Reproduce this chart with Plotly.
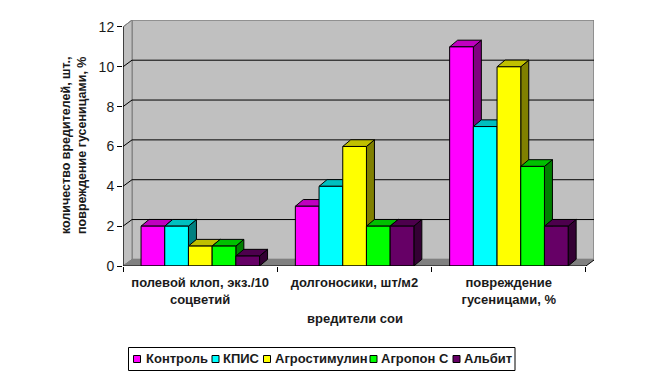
import plotly.graph_objects as go

categories = ["<b>полевой клоп, экз./10<br>соцветий</b>", "<b>долгоносики, шт/м2</b>", "<b>повреждение<br>гусеницами, %</b>"]
series_names = ["Контроль", "КПИС", "Агростимулин", "Агропон С", "Альбит"]
kontrol = [2, 3, 11]
kpis = [2, 4, 7]
agrostimulin = [1, 6, 10]
agropon = [1, 2, 5]
albit = [0.5, 2, 2]
series_values = [kontrol, kpis, agrostimulin, agropon, albit]
front_colors = ["#ff00ff", "#00ffff", "#ffff00", "#00ff00", "#660066"]
side_colors = ["#800080", "#008080", "#808000", "#008000", "#330033"]
top_colors = ["#c000c0", "#00c0c0", "#c0c000", "#00c000", "#4d004d"]
y_ticks = [0, 2, 4, 6, 8, 10, 12]

OFF = 8  # page body margin
W, H = 645 - 2 * OFF, 380 - 2 * OFF
L, R, T, B = 123 - OFF, 594 - OFF, 20 - OFF, 266 - OFF
CAT_PX, UNIT_PX = 154.3, 19.92
xmax, ymax = (R - L) / CAT_PX, (B - T) / UNIT_PX
DX, DY = 8 / CAT_PX, 6.7 / UNIT_PX      # bar depth
WX, WY = 9 / CAT_PX, 6.6 / UNIT_PX      # wall depth
BW, PAD = 23.7 / CAT_PX, 0.117
FONT = "Liberation Sans"
INK = "#1a1a1a"


def px(x):
    return (x - OFF - L) / (R - L)


def py(y):
    return (B - (y - OFF)) / (B - T)


def poly(xs, ys, color):
    return go.Scatter(x=xs + xs[:1], y=ys + ys[:1], mode="lines", fill="toself", fillcolor=color,
                      line=dict(color="black", width=1), showlegend=False, hoverinfo="skip")


fig = go.Figure()
for c in range(len(categories)):
    for s, vals in enumerate(series_values):
        v = vals[c]
        x0 = c + PAD + s * BW
        x1 = x0 + BW
        fig.add_trace(poly([x1, x1 + DX, x1 + DX, x1], [0, DY, v + DY, v], side_colors[s]))
        fig.add_trace(poly([x0, x0 + DX, x1 + DX, x1], [v, v + DY, v + DY, v], top_colors[s]))
        fig.add_trace(poly([x0, x1, x1, x0], [0, 0, v, v], front_colors[s]))

shapes = []
wall = dict(xref="x", yref="y", layer="below")
shapes.append(dict(type="path", path=f"M {WX},{WY} L {xmax},{WY} L {xmax},{ymax} L {WX},{ymax} Z",
                   fillcolor="#c0c0c0", line=dict(color="#808080", width=1.5), **wall))
shapes.append(dict(type="path", path=f"M 0,0 L {WX},{WY} L {WX},{ymax} L 0,12 Z",
                   fillcolor="#c0c0c0", line=dict(color="#808080", width=1), **wall))
shapes.append(dict(type="path", path=f"M 0,0 L {WX},{WY} L {xmax},{WY} L {xmax-WX},0 Z",
                   fillcolor="#808080", line=dict(color="#808080", width=1), **wall))
for t in y_ticks[1:-1]:
    shapes.append(dict(type="line", x0=0, y0=t, x1=WX, y1=t + WY, line=dict(color="black", width=1), **wall))
    shapes.append(dict(type="line", x0=WX, y0=t + WY, x1=xmax, y1=t + WY, line=dict(color="black", width=1), **wall))
shapes.append(dict(type="line", x0=0, y0=12, x1=WX, y1=ymax, line=dict(color="#808080", width=1), **wall))
shapes.append(dict(type="line", x0=0, y0=0, x1=0, y1=12, xref="x", yref="y", line=dict(color="black", width=1.2)))
shapes.append(dict(type="line", x0=0, y0=0, x1=3, y1=0, xref="x", yref="y", line=dict(color="black", width=1.2)))
shapes.append(dict(type="line", x0=3, y0=0, x1=3 + WX, y1=WY, xref="x", yref="y", line=dict(color="black", width=1)))

# legend
shapes.append(dict(type="rect", xref="paper", yref="paper", x0=px(128.5), x1=px(515),
                   y0=py(370.5), y1=py(347.5), fillcolor="white", line=dict(color="black", width=1)))
legend_marker_px = [133.5, 212, 263.5, 370, 453]
legend_text_px = [145, 222, 274, 380, 463]
annotations = []
for m, tx, name, col in zip(legend_marker_px, legend_text_px, series_names, front_colors):
    shapes.append(dict(type="rect", xref="paper", yref="paper", x0=px(m), x1=px(m + 7),
                       y0=py(362.5), y1=py(355.5), fillcolor=col, line=dict(color="black", width=1)))
    annotations.append(dict(xref="paper", yref="paper", x=px(tx), y=py(358), text=f"<b>{name}</b>",
                            showarrow=False, xanchor="left", yanchor="middle", xshift=-1,
                            font=dict(family=FONT, size=13, color=INK)))

annotations.append(dict(xref="paper", yref="paper", x=px(355), y=py(318.5), text="<b>вредители сои</b>",
                        showarrow=False, xanchor="center", yanchor="middle",
                        font=dict(family=FONT, size=13, color=INK)))
annotations.append(dict(xref="paper", yref="paper", x=px(74), y=py(145),
                        text="<b>количество вредителей, шт.,<br>повреждение гусеницами, %</b>",
                        showarrow=False, textangle=-90, xanchor="center", yanchor="middle",
                        font=dict(family=FONT, size=12.5, color=INK)))

fig.update_layout(
    width=W, height=H, autosize=False, paper_bgcolor="white", plot_bgcolor="white",
    margin=dict(l=L, r=W - R, t=T, b=H - B, pad=0), showlegend=False,
    font=dict(family=FONT, size=13, color=INK), shapes=shapes, annotations=annotations,
    xaxis=dict(range=[0, xmax], showgrid=False, zeroline=False, showline=False, fixedrange=True,
               tickmode="array", tickvals=[0.5, 1.5, 2.5], ticktext=categories, ticks="", ticklen=0,
               ticklabelstandoff=7, tickfont=dict(family=FONT, size=13, color=INK),
               minor=dict(tickmode="array", tickvals=[0, 1, 2, 3], ticks="outside", ticklen=5,
                          tickcolor="black", tickwidth=1, showgrid=False)),
    yaxis=dict(range=[0, ymax], showgrid=False, zeroline=False, showline=False, fixedrange=True,
               tickmode="array", tickvals=y_ticks, ticks="outside", ticklen=5, tickcolor="black",
               tickfont=dict(family=FONT, size=14, color=INK, weight=500)),
)
fig.write_html("out.html", config={"displayModeBar": False})
